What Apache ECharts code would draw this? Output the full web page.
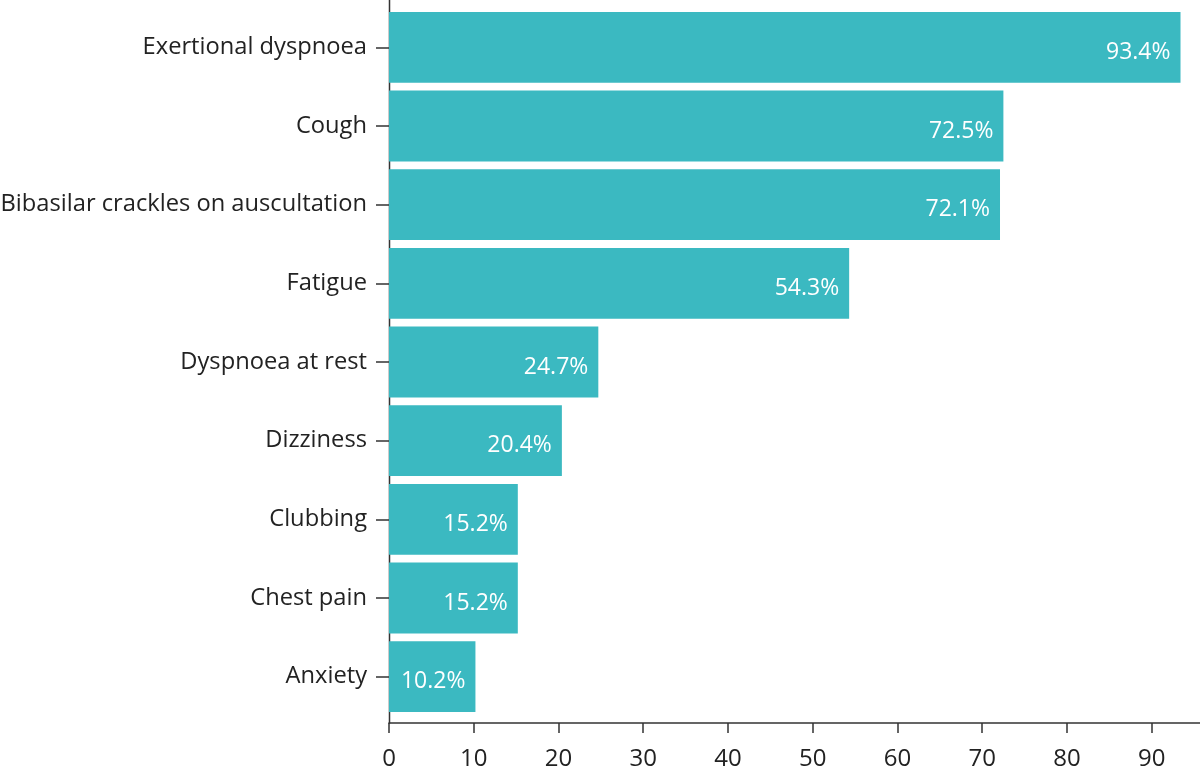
<!DOCTYPE html>
<html><head><meta charset="utf-8">
<script src="https://cdn.jsdelivr.net/npm/echarts@6/dist/echarts.min.js"></script>
<style>html,body{margin:0;padding:0;background:#fff}#c{width:1200px;height:775px}</style>
</head><body><div id="c"></div>
<script>
const categories = ["Exertional dyspnoea","Cough","Bibasilar crackles on auscultation","Fatigue","Dyspnoea at rest","Dizziness","Clubbing","Chest pain","Anxiety"];
const values = [93.4,72.5,72.1,54.3,24.7,20.4,15.2,15.2,10.2];
const xTicks = [0,10,20,30,40,50,60,70,80,90];

const FONT = "Open Sans";
const chart = echarts.init(document.getElementById('c'), null, {renderer:'canvas'});
chart.setOption({
  animation:false,
  grid:{left:389, right:0, top:8, bottom:59, containLabel:false, outerBoundsMode:'none'},
  xAxis:{type:'value', min:0, max:95.7, offset:7,
    axisLine:{show:true, lineStyle:{color:'#333', width:1.5}},
    axisTick:{show:true, length:10, customValues:xTicks, lineStyle:{color:'#333', width:1.5}},
    axisLabel:{color:'#222', fontSize:24, fontFamily:FONT, margin:24, customValues:xTicks},
    splitLine:{show:false}},
  yAxis:{type:'category', data:categories, inverse:true,
    axisLine:{show:false},
    axisTick:{show:true, alignWithLabel:true, length:13, lineStyle:{color:'#333', width:1.5}},
    axisLabel:{color:'#222', fontSize:23.7, fontFamily:FONT, margin:22, padding:[8,0,0,0]}},
  series:[{type:'bar', data:values, barCategoryGap:'10%',
    itemStyle:{color:'#3BB9C1'},
    label:{show:true, position:'insideRight', distance:10, color:'#fff', fontSize:23, fontFamily:FONT,
      formatter:p => p.value.toFixed(1)+'%', offset:[0,5]}}],
  graphic:[{type:'line', shape:{x1:389.5,y1:0,x2:389.5,y2:723.5}, style:{stroke:'#333', lineWidth:1.5}}]
});
</script></body></html>
